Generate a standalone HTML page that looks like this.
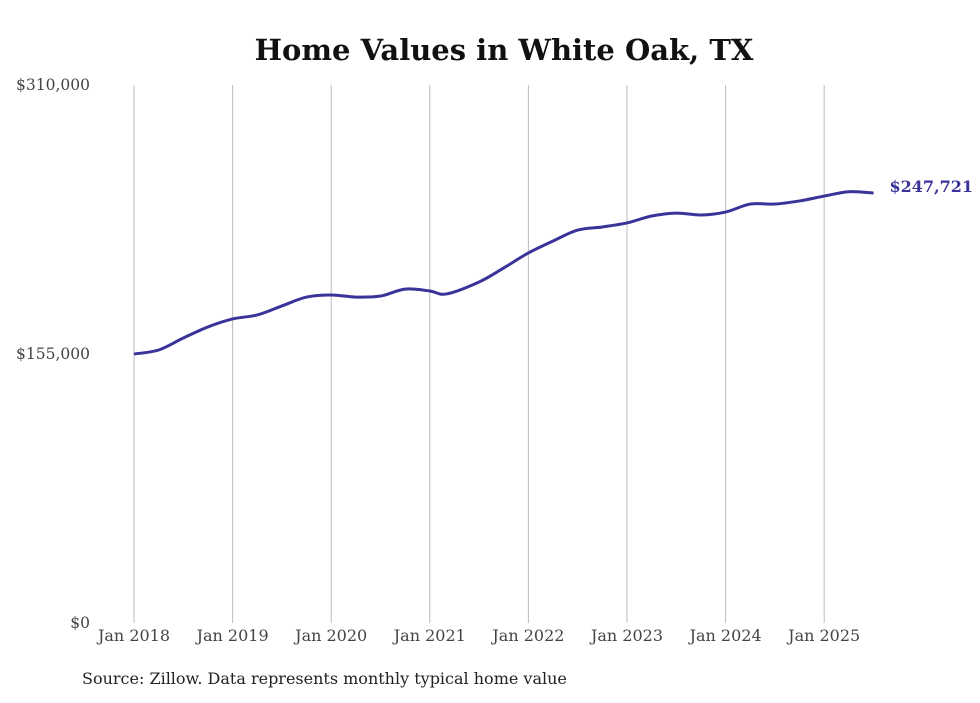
<!DOCTYPE html>
<html><head><meta charset="utf-8"><style>
body{margin:0;background:#fff;width:980px;height:699px;overflow:hidden;font-family:"DejaVu Serif","Liberation Serif",serif}
</style></head><body>
<svg id="chart" width="980" height="699">
<text x="504" y="60" text-anchor="middle" font-size="29" font-weight="bold" fill="#111">Home Values in White Oak, TX</text>
<g id="grid"></g><g id="yticks"></g><g id="xticks"></g>
<path id="line" fill="none" stroke="#3a3399" stroke-width="3"/>
<text id="endlabel" font-size="16" font-weight="bold" fill="#3a3399"></text>
<text x="82" y="684" font-size="16" fill="#222">Source: Zillow. Data represents monthly typical home value</text>
</svg>
<script>
const xYears=[2018,2019,2020,2021,2022,2023,2024,2025];
const xTickLabels=["Jan 2018","Jan 2019","Jan 2020","Jan 2021","Jan 2022","Jan 2023","Jan 2024","Jan 2025"];
const yTicks=[0,155000,310000];
const yTickLabels=["$0","$155,000","$310,000"];
const dates=[2018,2018.25,2018.5,2018.75,2019,2019.25,2019.5,2019.75,2020,2020.25,2020.5,2020.75,2021,2021.17,2021.5,2021.75,2022,2022.25,2022.5,2022.75,2023,2023.25,2023.5,2023.75,2024,2024.25,2024.5,2024.75,2025,2025.25,2025.5];
const values=[155000,157300,164200,170600,175200,177500,182700,187800,189000,187800,188400,192400,191300,189600,196500,204600,213200,220100,226400,228200,230500,234500,236200,235100,236800,241400,241400,243200,246000,248500,247721];
const x=d=>134+(d-2018)*98.6;
const y=v=>623-v/155000*269;
const NS="http://www.w3.org/2000/svg";
const grid=document.getElementById('grid'),xt=document.getElementById('xticks'),yt=document.getElementById('yticks');
xYears.forEach((yr,i)=>{
 const l=document.createElementNS(NS,'line');
 l.setAttribute('x1',x(yr));l.setAttribute('x2',x(yr));l.setAttribute('y1',85);l.setAttribute('y2',623);
 l.setAttribute('stroke','#bbb');l.setAttribute('stroke-width','1');
 
 
 grid.appendChild(l);
 const t=document.createElementNS(NS,'text');
 t.setAttribute('x',x(yr));t.setAttribute('y',641);t.setAttribute('text-anchor','middle');
 t.setAttribute('font-size','16');t.setAttribute('fill','#444');t.textContent=xTickLabels[i];
 
 
 xt.appendChild(t);
});
yTicks.forEach((v,i)=>{
 const t=document.createElementNS(NS,'text');
 t.setAttribute('x',90);t.setAttribute('y',y(v)+5);t.setAttribute('text-anchor','end');
 t.setAttribute('font-size','15.5');t.setAttribute('fill','#444');t.textContent=yTickLabels[i];
 
 
 yt.appendChild(t);
});
const P=dates.map((d,i)=>[x(d),y(values[i])]);
let p='M'+P[0][0]+','+P[0][1];
for(let i=0;i<P.length-1;i++){
 const p0=P[Math.max(0,i-1)],p1=P[i],p2=P[i+1],p3=P[Math.min(P.length-1,i+2)];
 const c1=[p1[0]+(p2[0]-p0[0])/6,p1[1]+(p2[1]-p0[1])/6],c2=[p2[0]-(p3[0]-p1[0])/6,p2[1]-(p3[1]-p1[1])/6];
 p+=` C${c1[0]},${c1[1]} ${c2[0]},${c2[1]} ${p2[0]},${p2[1]}`;
}
document.getElementById('line').setAttribute('d',p);
const el=document.getElementById('endlabel');
const last=P[P.length-1];
el.setAttribute('x',last[0]+16);el.setAttribute('y',last[1]-1);
el.textContent='$'+values[values.length-1].toLocaleString('en-US');
</script>
</body></html>
